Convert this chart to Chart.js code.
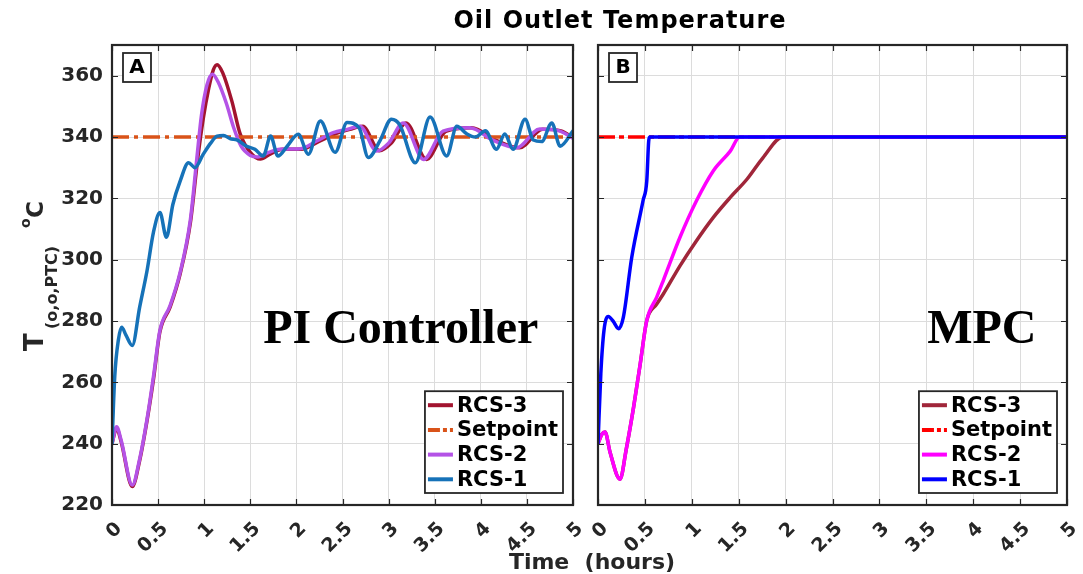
<!DOCTYPE html>
<html>
<head>
<meta charset="utf-8">
<script src="https://cdn.jsdelivr.net/npm/chart.js@4/dist/chart.umd.min.js"></script>
<style>
  html, body { margin: 0; padding: 0; background: #fff; }
  #wrap { position: relative; width: 1083px; height: 574px; }
  canvas { position: absolute; left: 0; top: 0; }
</style>
</head>
<body>
<div id="wrap">
  <canvas id="pi" width="1083" height="574"></canvas>
  <canvas id="mpc" width="1083" height="574"></canvas>
</div>
<script>
// axes
const X_TICKS = [0, 0.5, 1, 1.5, 2, 2.5, 3, 3.5, 4, 4.5, 5];
const X_TICK_LABELS = ['0', '0.5', '1', '1.5', '2', '2.5', '3', '3.5', '4', '4.5', '5'];
const Y_TICKS = [220, 240, 260, 280, 300, 320, 340, 360];
const SETPOINT_T = [0, 5];
const SETPOINT_V = [340, 340];

// panel A - PI controller (time in hours, temperature in degC)
const piRcs3T = [0, 0.05, 0.1, 0.22, 0.3, 0.38, 0.45, 0.52, 0.63, 0.74, 0.85, 0.93, 0.99, 1.05, 1.1, 1.14, 1.2, 1.3, 1.39, 1.5,
  1.61, 1.72, 1.85, 2.05, 2.24, 2.42, 2.58, 2.72, 2.9, 3.03, 3.19, 3.41, 3.62, 3.9, 4.16, 4.42, 4.67, 4.87, 5.0];
const piRcs3V = [240, 245, 240.5, 226, 234.5, 247.5, 261, 276.5, 284.5, 295.5, 312, 333, 346, 356, 362, 363.6, 361, 351.7, 341, 335,
  332.8, 334.5, 336, 336, 338.5, 341, 342.5, 343.5, 335.5, 338, 344.6, 332.7, 341.8, 343, 339, 336.5, 342.5, 342, 339.8];

const piRcs2T = [0, 0.05, 0.1, 0.22, 0.3, 0.38, 0.45, 0.52, 0.63, 0.74, 0.85, 0.92, 0.97, 1.03, 1.09, 1.15, 1.24, 1.32, 1.4, 1.5,
  1.58, 1.7, 1.82, 2.04, 2.22, 2.4, 2.55, 2.69, 2.87, 3.0, 3.16, 3.38, 3.59, 3.88, 4.13, 4.39, 4.64, 4.85, 5.0];
const piRcs2V = [240, 245.5, 241, 226.5, 235, 248, 262, 277, 285, 296, 313, 333, 347, 357, 360.5, 358, 351, 343, 337, 334,
  333.5, 335, 336, 336.2, 338.7, 341.4, 342.5, 343.5, 335.4, 338, 344.6, 332.7, 341.9, 343, 339, 336.5, 342.6, 342, 339.6];

const piRcs1T = [0, 0.03, 0.07, 0.105, 0.15, 0.22, 0.3, 0.38, 0.45, 0.52, 0.59, 0.66, 0.74, 0.83, 0.9, 0.99, 1.07, 1.14, 1.21, 1.28,
  1.36, 1.46, 1.55, 1.64, 1.72, 1.8, 1.9, 2.02, 2.13, 2.26, 2.42, 2.55, 2.68, 2.78, 2.91, 3.03, 3.12, 3.29, 3.45, 3.63,
  3.74, 3.85, 3.94, 4.05, 4.17, 4.26, 4.35, 4.48, 4.57, 4.66, 4.77, 4.86, 5.0];
const piRcs1V = [240, 262, 274, 278, 275.5, 272, 284.5, 296.4, 309, 315.4, 307.3, 318, 325.7, 331.6, 330, 334.4, 338, 340.3, 340.5, 339.5,
  339, 337, 336, 333.8, 340.3, 333.8, 337, 340.9, 334.4, 345.2, 335, 344.7, 343, 333.3, 339, 345.8, 344, 331.6, 346.5, 333.8,
  343.5, 341, 340, 342, 336, 341, 336, 345.8, 339, 338.5, 344.6, 337, 342];

// panel B - MPC
const mpcRcs3T = [0, 0.04, 0.075, 0.13, 0.235, 0.3, 0.38, 0.45, 0.52, 0.626, 0.696, 0.874, 1.05, 1.23, 1.41, 1.59, 1.76, 1.97, 5];
const mpcRcs3V = [240, 243, 243.8, 237, 228.4, 238, 252, 266, 280.2, 285.5, 288.8, 298, 306.2, 313.8, 320.3, 326.3, 333.3, 340, 340];

const mpcRcs2T = [0, 0.04, 0.075, 0.13, 0.235, 0.3, 0.38, 0.45, 0.52, 0.626, 0.696, 0.874, 1.05, 1.23, 1.41, 1.51, 5];
const mpcRcs2V = [240, 243, 243.8, 237, 228.4, 238, 252, 266, 280.2, 287.8, 293.2, 307.3, 319.2, 329, 335.4, 340, 340];

const mpcRcs1T = [0, 0.03, 0.064, 0.11, 0.16, 0.22, 0.27, 0.36, 0.48, 0.52, 0.54, 0.55, 5];
const mpcRcs1V = [240, 262.8, 277, 281.5, 280, 277.5, 281.2, 300.8, 319.2, 325.7, 338.5, 340, 340];

const INK = '#262626';
const SANS = "'DejaVu Sans', sans-serif";

const pts = (ts, vs) => ts.map((t, i) => ({ x: t, y: vs[i] }));

function series(label, ts, vs, color, order, dash) {
  return {
    label,
    data: pts(ts, vs),
    borderColor: color,
    borderWidth: 3.5,
    borderDash: dash || [],
    borderCapStyle: dash ? 'butt' : 'round',
    pointRadius: 0,
    cubicInterpolationMode: 'monotone',
    fill: false,
    order,
  };
}

const decor = {
  id: 'decor',
  afterDatasetsDraw(chart, args, opts) {
    const { ctx, chartArea: a, scales: { x, y } } = chart;
    ctx.save();

    // inward tick marks
    ctx.strokeStyle = INK;
    ctx.lineWidth = 1.2;
    ctx.beginPath();
    for (const t of X_TICKS) {
      const px = Math.round(x.getPixelForValue(t)) + 0.5;
      ctx.moveTo(px, a.bottom); ctx.lineTo(px, a.bottom - 6);
      ctx.moveTo(px, a.top); ctx.lineTo(px, a.top + 6);
    }
    for (const v of Y_TICKS) {
      const py = Math.round(y.getPixelForValue(v)) + 0.5;
      ctx.moveTo(a.left, py); ctx.lineTo(a.left + 6, py);
      ctx.moveTo(a.right, py); ctx.lineTo(a.right - 6, py);
    }
    ctx.stroke();

    // axes box
    ctx.lineWidth = 2.2;
    ctx.strokeRect(a.left, a.top, a.right - a.left, a.bottom - a.top);

    // rotated x tick labels
    ctx.fillStyle = INK;
    ctx.font = `bold 19px ${SANS}`;
    ctx.textAlign = 'right';
    ctx.textBaseline = 'middle';
    X_TICKS.forEach((t, i) => {
      ctx.save();
      ctx.translate(x.getPixelForValue(t) + 7, a.bottom + 21);
      ctx.rotate(-Math.PI / 4);
      ctx.fillText(X_TICK_LABELS[i], 0, 0);
      ctx.restore();
    });

    // big annotation
    ctx.fillStyle = '#000';
    ctx.font = "bold 48px 'Liberation Serif', 'Times New Roman', serif";
    ctx.textAlign = 'left';
    ctx.textBaseline = 'alphabetic';
    ctx.fillText(opts.note, x.getPixelForValue(opts.noteAt[0]), y.getPixelForValue(opts.noteAt[1]));

    // panel letter
    const bx = a.left + 11, by = a.top + 8;
    ctx.fillStyle = '#fff';
    ctx.fillRect(bx, by, 28, 29);
    ctx.lineWidth = 1.8;
    ctx.strokeStyle = INK;
    ctx.strokeRect(bx, by, 28, 29);
    ctx.fillStyle = '#000';
    ctx.font = `bold 20px ${SANS}`;
    ctx.textAlign = 'center';
    ctx.textBaseline = 'middle';
    ctx.fillText(opts.letter, bx + 14, by + 15);

    // legend, bottom right inside the axes
    const ds = chart.data.datasets;
    ctx.font = `bold 21px ${SANS}`;
    const tw = Math.max(...ds.map(d => ctx.measureText(d.label).width));
    const rowH = 24.7;
    const lw = 3 + 25 + 4 + tw + 5;
    const lh = rowH * ds.length + 3;
    const lx = a.right - 10 - lw, ly = a.bottom - 12 - lh;
    ctx.fillStyle = '#fff';
    ctx.fillRect(lx, ly, lw, lh);
    ctx.lineWidth = 1.8;
    ctx.strokeStyle = INK;
    ctx.strokeRect(lx, ly, lw, lh);
    ds.forEach((d, i) => {
      const cy = ly + 14 + i * rowH;
      ctx.save();
      ctx.strokeStyle = d.borderColor;
      ctx.lineWidth = 4;
      ctx.setLineDash(d.borderDash.length ? [12, 3, 4, 3] : []);
      ctx.beginPath();
      ctx.moveTo(lx + 3, cy);
      ctx.lineTo(lx + 28, cy);
      ctx.stroke();
      ctx.restore();
      ctx.fillStyle = '#000';
      ctx.textAlign = 'left';
      ctx.textBaseline = 'middle';
      ctx.fillText(d.label, lx + 32, cy + 1);
    });

    // figure-level texts
    if (opts.figureText) {
      ctx.fillStyle = '#000';
      ctx.textBaseline = 'alphabetic';
      ctx.textAlign = 'center';
      ctx.font = `bold 24px ${SANS}`;
      ctx.letterSpacing = '1px';
      ctx.fillText('Oil Outlet Temperature', 620, 28);
      ctx.letterSpacing = '0px';
      ctx.fillStyle = INK;
      ctx.font = `bold 22px ${SANS}`;
      ctx.fillText('Time  (hours)', 592, 569);

      // y label: T_(o,o,PTC) °C
      ctx.save();
      ctx.translate(43, 351);
      ctx.rotate(-Math.PI / 2);
      ctx.textAlign = 'left';
      ctx.font = `bold 26px ${SANS}`;
      ctx.fillText('T', 0, 0);
      ctx.font = `bold 16px ${SANS}`;
      ctx.fillText('(o,o,PTC)', 22, 14);
      ctx.font = `bold 14px ${SANS}`;
      ctx.fillText('o', 123, -13);
      ctx.font = `bold 23px ${SANS}`;
      ctx.fillText('C', 133, 0);
      ctx.restore();
    }
    ctx.restore();
  },
};

function makeChart(id, datasets, o) {
  return new Chart(document.getElementById(id), {
    type: 'line',
    data: { datasets },
    options: {
      responsive: false,
      devicePixelRatio: 1,
      animation: false,
      events: [],
      layout: { padding: { top: 45, right: o.padRight, left: 0, bottom: 0 } },
      scales: {
        x: {
          type: 'linear',
          min: 0,
          max: 5,
          afterBuildTicks: (s) => { s.ticks = X_TICKS.map(v => ({ value: v })); },
          afterFit: (s) => { s.height = 69; },
          ticks: { display: false },
          grid: { color: '#dcdcdc', lineWidth: 1, drawTicks: false },
          border: { display: false },
        },
        y: {
          type: 'linear',
          min: 220,
          max: 370,
          afterBuildTicks: (s) => { s.ticks = Y_TICKS.map(v => ({ value: v })); },
          afterFit: (s) => { s.width = o.left; },
          ticks: {
            display: o.yLabels,
            color: INK,
            padding: 9,
            font: { family: SANS, size: 20, weight: 'bold' },
          },
          grid: { color: '#dcdcdc', lineWidth: 1, drawTicks: false },
          border: { display: false },
        },
      },
      plugins: {
        legend: { display: false },
        tooltip: { enabled: false },
        decor: o.decor,
      },
    },
    plugins: [decor],
  });
}

makeChart('pi', [
  series('RCS-3', piRcs3T, piRcs3V, '#A2142F', 4),
  series('Setpoint', SETPOINT_T, SETPOINT_V, '#D95319', 3, [17, 5, 4, 5]),
  series('RCS-2', piRcs2T, piRcs2V, '#B453E6', 2),
  series('RCS-1', piRcs1T, piRcs1V, '#1672B8', 1),
], {
  left: 112, padRight: 1083 - 573, yLabels: true,
  decor: { letter: 'A', note: 'PI Controller', noteAt: [1.64, 272.7], figureText: true },
});

makeChart('mpc', [
  series('RCS-3', mpcRcs3T, mpcRcs3V, '#A0263A', 4),
  series('Setpoint', SETPOINT_T, SETPOINT_V, '#FF0000', 3, [17, 4, 5, 4]),
  series('RCS-2', mpcRcs2T, mpcRcs2V, '#FF00FF', 2),
  series('RCS-1', mpcRcs1T, mpcRcs1V, '#0000FF', 1),
], {
  left: 598, padRight: 1083 - 1067, yLabels: false,
  decor: { letter: 'B', note: 'MPC', noteAt: [3.51, 272.7], figureText: false },
});
</script>
</body>
</html>
